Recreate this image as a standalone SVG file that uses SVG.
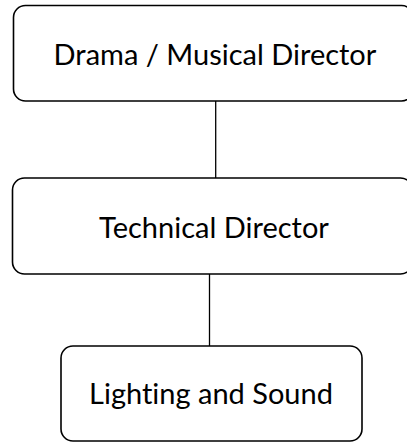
<svg xmlns="http://www.w3.org/2000/svg" width="407" height="443" viewBox="0 0 407 443">
<style>
.box{fill:#fff;stroke:#000;stroke-width:1.6}
.lbl{font-family:Lato,"Open Sans",sans-serif;font-size:29px;fill:#000;text-anchor:middle;font-variant-ligatures:none}
.con{stroke:#000;stroke-width:1.3;fill:none}
</style>
<rect width="407" height="443" fill="#fff"/>
<g id="connectors">
<line class="con" x1="215.7" y1="101" x2="215.7" y2="178"/>
<line class="con" x1="209.5" y1="274" x2="209.5" y2="346"/>
</g>
<g id="n1">
<rect class="box" x="13.5" y="5.5" width="400" height="95.5" rx="12"/>
<text class="lbl" x="215" y="65">Drama / Musical Director</text>
</g>
<g id="n2">
<rect class="box" x="12.5" y="178" width="400" height="96" rx="12"/>
<text class="lbl" x="214" y="237.5">Technical Director</text>
</g>
<g id="n3">
<rect class="box" x="61" y="346" width="301" height="95" rx="12"/>
<text class="lbl" x="211" y="404">Lighting and Sound</text>
</g>
</svg>
